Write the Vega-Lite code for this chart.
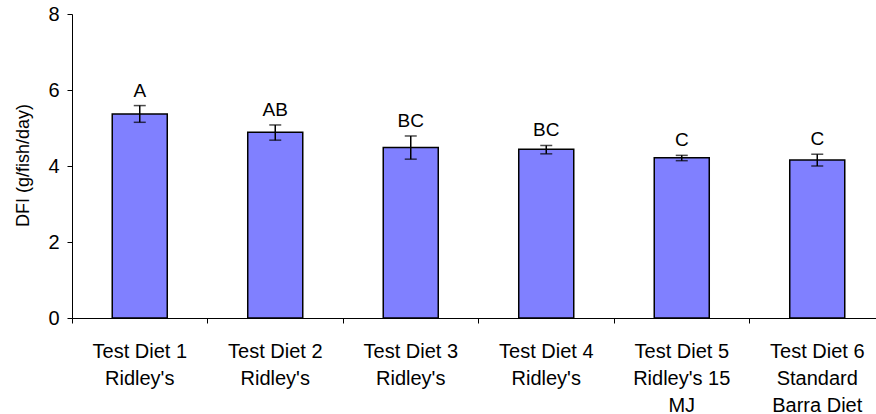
{
  "$schema": "https://vega.github.io/schema/vega-lite/v6.json",
  "width": 804,
  "height": 304,
  "autosize": {"type": "none"},
  "padding": {"left": 72, "top": 14, "right": 0, "bottom": 96},
  "background": "white",
  "config": {"view": {"stroke": null}, "font": "Liberation Sans"},
  "data": {
    "values": [
      {"diet": "Test Diet 1|Ridley's", "dfi": 5.37, "lo": 5.15, "hi": 5.59, "letter": "A"},
      {"diet": "Test Diet 2|Ridley's", "dfi": 4.89, "lo": 4.68, "hi": 5.08, "letter": "AB"},
      {"diet": "Test Diet 3|Ridley's", "dfi": 4.49, "lo": 4.18, "hi": 4.79, "letter": "BC"},
      {"diet": "Test Diet 4|Ridley's", "dfi": 4.44, "lo": 4.32, "hi": 4.54, "letter": "BC"},
      {"diet": "Test Diet 5|Ridley's 15|MJ", "dfi": 4.22, "lo": 4.14, "hi": 4.28, "letter": "C"},
      {"diet": "Test Diet 6|Standard|Barra Diet", "dfi": 4.16, "lo": 4.0, "hi": 4.31, "letter": "C"}
    ]
  },
  "encoding": {
    "x": {
      "field": "diet",
      "type": "nominal",
      "sort": null,
      "scale": {"range": [0, 813], "paddingInner": 0, "paddingOuter": 0},
      "axis": {
        "title": null,
        "labelAngle": 0,
        "labelExpr": "split(datum.value, '|')",
        "labelFontSize": 20,
        "labelColor": "black",
        "labelLineHeight": 27,
        "labelBaseline": "top",
        "labelPadding": 18,
        "bandPosition": 0,
        "tickSize": 5,
        "tickColor": "black",
        "domainColor": "black",
        "labelOverlap": false,
        "labelBound": false
      }
    }
  },
  "layer": [
    {
      "mark": {"type": "bar", "width": {"band": 0.406}, "fill": "#8080FF", "stroke": "black", "strokeWidth": 1.5},
      "encoding": {
        "y": {
          "field": "dfi",
          "type": "quantitative",
          "scale": {"domain": [0, 8], "nice": false},
          "axis": {
            "title": "DFI (g/fish/day)",
            "titleFontSize": 18,
            "titleFontWeight": "normal",
            "titleColor": "black",
            "titleX": -40,
            "titleY": 151,
            "values": [0, 2, 4, 6, 8],
            "labelFontSize": 20,
            "labelColor": "black",
            "labelPadding": 8,
            "tickSize": 5,
            "tickColor": "black",
            "domainColor": "black",
            "grid": false
          }
        }
      }
    },
    {
      "mark": {"type": "rule", "color": "black", "strokeWidth": 1.5},
      "encoding": {
        "y": {"field": "lo", "type": "quantitative"},
        "y2": {"field": "hi"}
      }
    },
    {
      "mark": {"type": "tick", "color": "black", "thickness": 1.5, "size": 12},
      "encoding": {"y": {"field": "lo", "type": "quantitative"}}
    },
    {
      "mark": {"type": "tick", "color": "black", "thickness": 1.5, "size": 12},
      "encoding": {"y": {"field": "hi", "type": "quantitative"}}
    },
    {
      "mark": {"type": "text", "fontSize": 19, "baseline": "bottom", "dy": -5, "color": "black"},
      "encoding": {
        "y": {"field": "hi", "type": "quantitative"},
        "text": {"field": "letter"}
      }
    }
  ]
}
